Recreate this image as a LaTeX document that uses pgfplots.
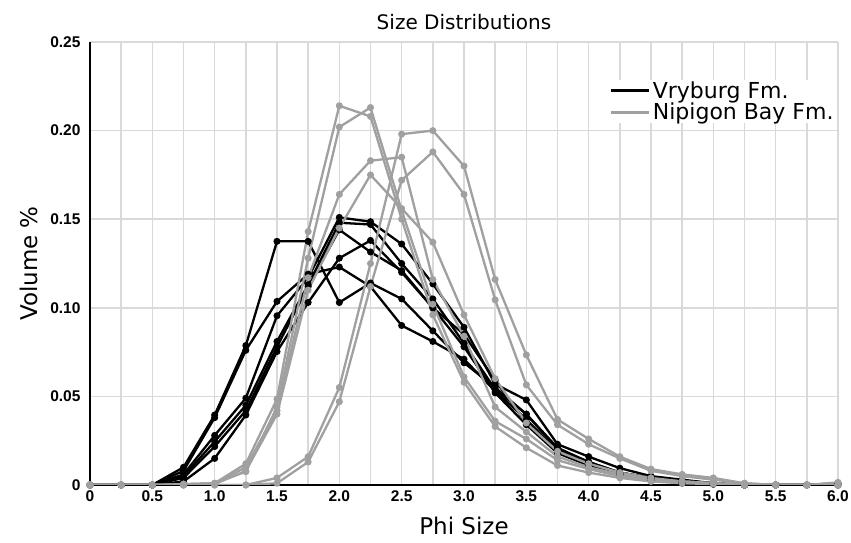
\documentclass[border=0pt]{standalone}
\usepackage{pgfplots}
\pgfplotsset{compat=1.18}
\usepackage{pgfplotstable}
\usepackage{fontspec}
\setmainfont{DejaVu Sans}
\newfontfamily\tickfont{Liberation Sans}
\definecolor{nipigon}{RGB}{160,160,160}
\definecolor{gridgray}{RGB}{217,217,217}

% Vryburg Fm. samples
\pgfplotstableread{
x     K1     K2     K3     K4     K5     K6
0     0      0      0      0      0      0
0.25  0      0      0      0      0      0
0.5   0      0      0      0      0      0
0.75  0.010  0.008  0.006  0.005  0.004  0.002
1.0   0.0395 0.038  0.028  0.0245 0.0217 0.015
1.25  0.0787 0.076  0.049  0.045  0.042  0.0395
1.5   0.1375 0.1036 0.0955 0.081  0.078  0.0753
1.75  0.1375 0.119  0.117  0.113  0.112  0.103
2.0   0.103  0.123  0.151  0.148  0.144  0.128
2.25  0.114  0.112  0.1486 0.147  0.1315 0.138
2.5   0.105  0.090  0.136  0.125  0.121  0.120
2.75  0.087  0.081  0.1135 0.105  0.100  0.100
3.0   0.069  0.071  0.089  0.080  0.085  0.078
3.25  0.055  0.053  0.057  0.054  0.059  0.052
3.5   0.040  0.037  0.048  0.040  0.035  0.034
3.75  0.021  0.019  0.023  0.020  0.019  0.018
4.0   0.013  0.012  0.016  0.013  0.011  0.011
4.25  0.007  0.006  0.0095 0.007  0.006  0.006
4.5   0.004  0.003  0.005  0.004  0.003  0.003
4.75  0.002  0.001  0.003  0.002  0.0015 0.0015
5.0   0.001  0.0005 0.001  0.001  0.0005 0.0005
5.25  0      0      0      0      0      0
5.5   0      0      0      0      0      0
5.75  0      0      0      0      0      0
6.0   0.001  0      0      0      0      0
}\vryburg

% Nipigon Bay Fm. samples
\pgfplotstableread{
x     G1     G2     G3     G4     G5     G6
0     0      0      0      0      0      0
0.25  0      0      0      0      0      0
0.5   0      0      0      0      0      0
0.75  0.0005 0.0005 0      0      0      0
1.0   0.001  0.001  0.0008 0.0005 0      0
1.25  0.012  0.0075 0.010  0.008  0      0
1.5   0.0485 0.044  0.042  0.040  0.004  0.001
1.75  0.143  0.128  0.117  0.110  0.016  0.013
2.0   0.214  0.202  0.164  0.145  0.055  0.047
2.25  0.208  0.213  0.183  0.175  0.125  0.112
2.5   0.150  0.155  0.185  0.156  0.198  0.172
2.75  0.096  0.102  0.116  0.137  0.200  0.188
3.0   0.058  0.061  0.084  0.096  0.180  0.164
3.25  0.033  0.036  0.044  0.060  0.116  0.1045
3.5   0.021  0.026  0.030  0.035  0.0734 0.0565
3.75  0.011  0.014  0.016  0.019  0.037  0.034
4.0   0.007  0.009  0.010  0.012  0.026  0.023
4.25  0.004  0.005  0.006  0.007  0.016  0.015
4.5   0.002  0.003  0.003  0.004  0.009  0.008
4.75  0.001  0.002  0.002  0.002  0.006  0.005
5.0   0.0005 0.001  0.001  0.001  0.004  0.003
5.25  0      0      0      0      0.001  0.001
5.5   0      0      0      0      0      0
5.75  0      0      0      0      0      0
6.0   0.0015 0      0      0      0      0
}\nipigon

\begin{document}
\begin{tikzpicture}
\begin{axis}[
    scale only axis,
    width=748bp,
    height=443bp,
    xmin=0, xmax=6,
    ymin=0, ymax=0.25,
    xtick={0,0.5,1,1.5,2,2.5,3,3.5,4,4.5,5,5.5,6},
    xticklabels={0,0.5,1.0,1.5,2.0,2.5,3.0,3.5,4.0,4.5,5.0,5.5,6.0},
    minor xtick={0.25,0.75,1.25,1.75,2.25,2.75,3.25,3.75,4.25,4.75,5.25,5.75},
    ytick={0,0.05,0.10,0.15,0.20,0.25},
    yticklabels={0,0.05,0.10,0.15,0.20,0.25},
    grid=both,
    grid style={gridgray, line width=1.5bp},
    minor grid style={gridgray, line width=1.5bp},
    axis x line*=bottom,
    axis y line*=left,
    axis line style={line width=1.8bp, -},
    major tick length=0pt,
    minor tick length=0pt,
    tick label style={font=\tickfont\bfseries\fontsize{15.5bp}{15.5bp}\selectfont},
    xticklabel style={yshift=-2bp},
    yticklabel style={xshift=-6bp},
    title={Size Distributions},
    title style={font=\fontsize{20bp}{20bp}\selectfont, yshift=3bp},
    xlabel={Phi Size},
    ylabel={Volume \%},
    label style={font=\fontsize{23bp}{23bp}\selectfont},
    xlabel style={yshift=-9bp},
    ylabel style={yshift=6bp},
    legend cell align=left,
    legend style={at={(0.997,0.915)}, anchor=north east, draw=none, fill=white,
        font=\fontsize{22bp}{22bp}\selectfont, row sep=-1bp, inner sep=0bp},
    legend image code/.code={\draw[#1] (0bp,0bp) -- (38bp,0bp);},
    every axis plot/.append style={line width=2.3bp, mark=*, mark size=2.3bp},
]
\addlegendimage{black, line width=3bp}
\addlegendentry{Vryburg Fm.}
\addlegendimage{nipigon, line width=3bp}
\addlegendentry{Nipigon Bay Fm.}

\addplot[black, forget plot] table[x=x, y=K1] {\vryburg};
\addplot[black, forget plot] table[x=x, y=K2] {\vryburg};
\addplot[black, forget plot] table[x=x, y=K3] {\vryburg};
\addplot[black, forget plot] table[x=x, y=K4] {\vryburg};
\addplot[black, forget plot] table[x=x, y=K5] {\vryburg};
\addplot[black, forget plot] table[x=x, y=K6] {\vryburg};

\addplot[nipigon, forget plot] table[x=x, y=G1] {\nipigon};
\addplot[nipigon, forget plot] table[x=x, y=G2] {\nipigon};
\addplot[nipigon, forget plot] table[x=x, y=G3] {\nipigon};
\addplot[nipigon, forget plot] table[x=x, y=G4] {\nipigon};
\addplot[nipigon, forget plot] table[x=x, y=G5] {\nipigon};
\addplot[nipigon, forget plot] table[x=x, y=G6] {\nipigon};
\end{axis}
\pgfresetboundingbox
\useasboundingbox (-90bp,-58bp) rectangle (761bp,485bp);
\end{tikzpicture}
\end{document}
